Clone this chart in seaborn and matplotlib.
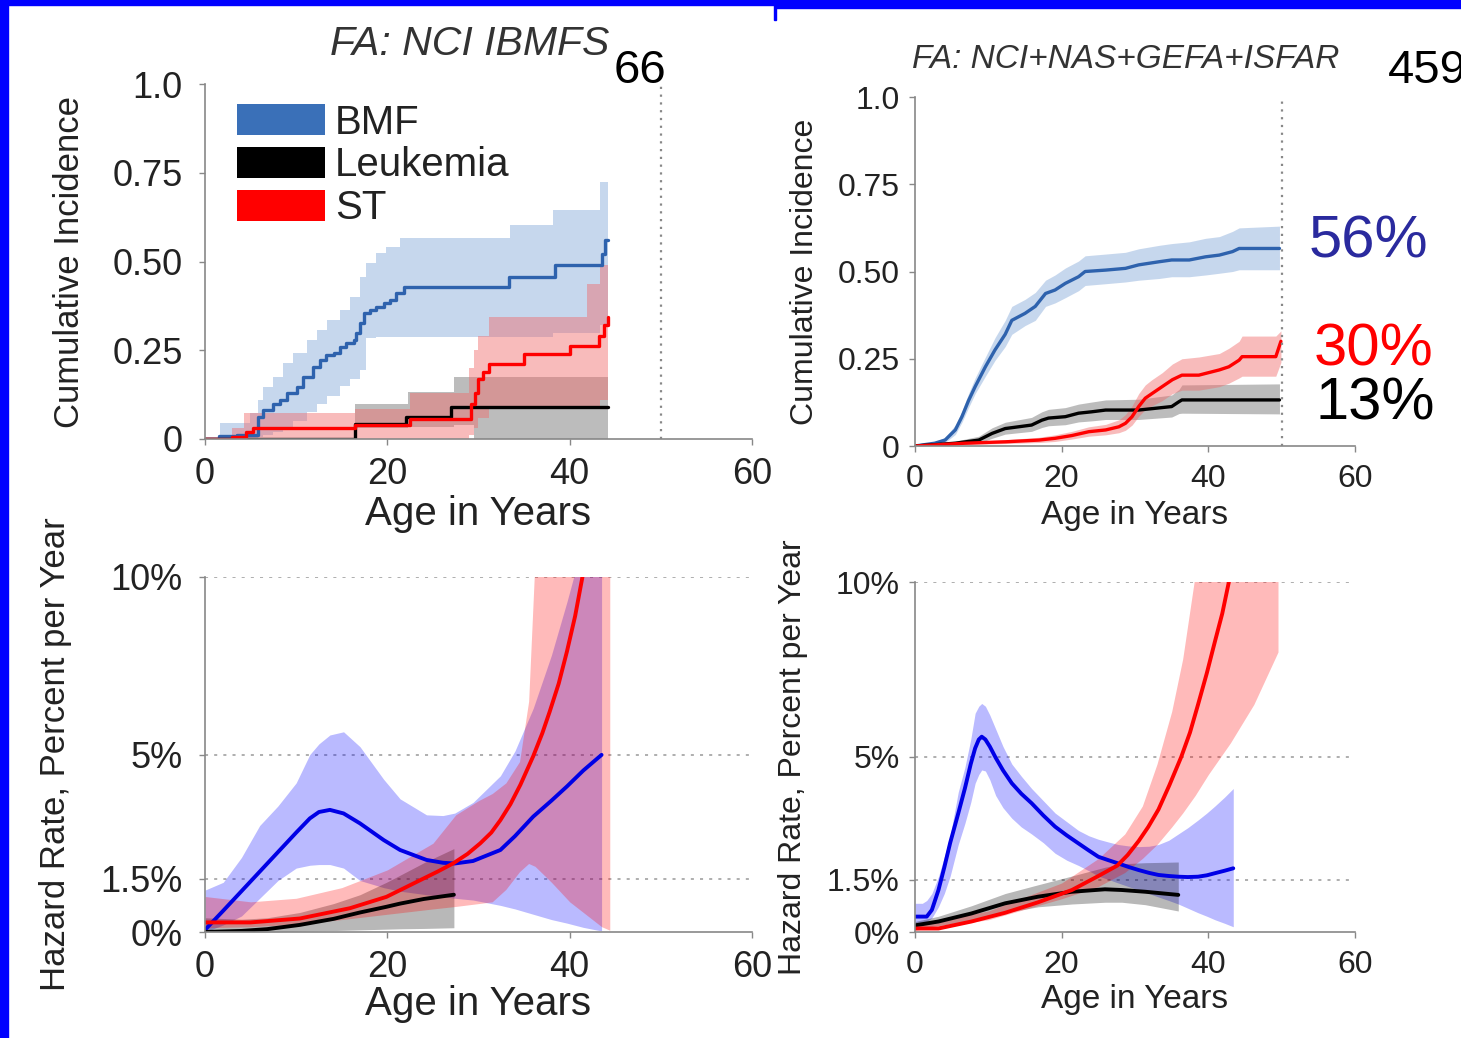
import numpy as np
import matplotlib
matplotlib.use('Agg')
import matplotlib.pyplot as plt
from matplotlib.patches import Patch, Rectangle
import seaborn as sns

# ---- cumulative incidence, NCI IBMFS cohort (step curves) ----
ci1_bmf_t = [0, 1.5, 3.5, 5.8, 6.4, 7.5, 8.2, 9.0, 10.1, 10.8, 11.9, 12.6, 13.3, 14.1, 14.8, 15.5,
             16.3, 16.6, 17.0, 17.4, 18.1, 18.8, 19.6, 20.3, 21.0, 21.8, 33.3, 38.4, 43.5, 43.9, 44.2]
ci1_bmf = [0, 0.008, 0.012, 0.063, 0.082, 0.10, 0.11, 0.129, 0.147, 0.176, 0.204, 0.223, 0.237, 0.241,
           0.26, 0.27, 0.279, 0.298, 0.326, 0.354, 0.363, 0.373, 0.382, 0.392, 0.41, 0.429, 0.457, 0.49,
           0.52, 0.56, 0.56]
ci1_bmf_band_t = [0, 1.6, 4.9, 5.8, 6.4, 7.5, 8.6, 9.7, 11.2, 12.3, 13.4, 14.8, 15.9, 17.0, 17.7, 18.8,
                  19.9, 21.4, 33.5, 38.2, 43.3, 44.2]
ci1_bmf_hi = [0.005, 0.044, 0.072, 0.11, 0.147, 0.176, 0.213, 0.241, 0.279, 0.307, 0.335, 0.363, 0.40,
              0.457, 0.495, 0.523, 0.542, 0.565, 0.603, 0.645, 0.725, 0.725]
ci1_bmf_lo = [0, 0, 0, 0.005, 0.01, 0.02, 0.035, 0.05, 0.075, 0.10, 0.12, 0.15, 0.17, 0.195, 0.285,
              0.288, 0.288, 0.288, 0.288, 0.30, 0.32, 0.32]

ci1_leuk_t = [0, 16.5, 22.0, 27.0, 44.2]
ci1_leuk = [0, 0.042, 0.062, 0.09, 0.09]
ci1_leuk_band_t = [0, 16.5, 22.3, 27.3, 29.5, 44.2]
ci1_leuk_hi = [0, 0.10, 0.133, 0.176, 0.176, 0.176]
ci1_leuk_lo = [0, 0.03, 0.035, 0.04, 0.0, 0.0]

ci1_st_t = [0, 3.0, 4.5, 5.3, 16.5, 22.5, 29.2, 29.6, 30.0, 30.5, 31.2, 35.0, 40.0, 43.2, 43.8, 44.2]
ci1_st = [0, 0.005, 0.02, 0.03, 0.04, 0.057, 0.10, 0.13, 0.17, 0.19, 0.21, 0.24, 0.262, 0.29, 0.32, 0.345]
ci1_st_band_t = [0, 3.0, 4.3, 16.5, 22.5, 29.0, 29.5, 30.0, 31.2, 41.9, 43.3, 44.2]
ci1_st_hi = [0.005, 0.03, 0.072, 0.085, 0.13, 0.20, 0.25, 0.29, 0.345, 0.437, 0.49, 0.49]
ci1_st_lo = [0, 0, 0, 0, 0, 0.01, 0.03, 0.06, 0.085, 0.085, 0.11, 0.11]

# ---- cumulative incidence, combined cohorts ----
ci2_bmf_t = [0, 2.7, 4.1, 5.5, 6.4, 7.3, 8.2, 9.6, 10.9, 12.3, 13.2, 15.0, 16.4, 17.8, 19.1, 20.5, 22.3,
             23.2, 26.0, 28.7, 30.5, 33.3, 35.0, 37.4, 39.6, 41.5, 43.3, 44.2, 49.7]
ci2_bmf = [0, 0.008, 0.017, 0.046, 0.084, 0.13, 0.17, 0.227, 0.275, 0.32, 0.36, 0.38, 0.40, 0.437, 0.447,
           0.466, 0.485, 0.50, 0.504, 0.509, 0.519, 0.528, 0.533, 0.533, 0.542, 0.547, 0.557, 0.566, 0.566]
ci2_bmf_hi = [0, 0.012, 0.025, 0.06, 0.10, 0.15, 0.195, 0.255, 0.31, 0.36, 0.40, 0.42, 0.44, 0.475, 0.49,
              0.51, 0.53, 0.545, 0.55, 0.555, 0.565, 0.575, 0.58, 0.585, 0.595, 0.60, 0.615, 0.625, 0.63]
ci2_bmf_lo = [0, 0.004, 0.01, 0.033, 0.068, 0.11, 0.15, 0.20, 0.245, 0.285, 0.32, 0.345, 0.36, 0.40, 0.41,
              0.425, 0.445, 0.46, 0.465, 0.47, 0.475, 0.48, 0.485, 0.485, 0.49, 0.495, 0.50, 0.505, 0.505]

ci2_leuk_t = [0, 5.5, 8.7, 10.5, 12.3, 14.1, 15.9, 17.3, 18.2, 20.5, 22.3, 24.1, 26.0, 30.5, 35.0, 36.0, 36.4, 49.7]
ci2_leuk = [0, 0.008, 0.017, 0.036, 0.05, 0.055, 0.06, 0.074, 0.08, 0.084, 0.094, 0.098, 0.103, 0.103,
            0.113, 0.127, 0.132, 0.132]
ci2_leuk_hi = [0, 0.014, 0.028, 0.052, 0.068, 0.075, 0.082, 0.098, 0.105, 0.11, 0.12, 0.126, 0.132, 0.134,
               0.146, 0.162, 0.175, 0.178]
ci2_leuk_lo = [0, 0.003, 0.008, 0.022, 0.034, 0.038, 0.042, 0.053, 0.058, 0.061, 0.069, 0.072, 0.076, 0.076,
               0.083, 0.093, 0.094, 0.092]

ci2_st_t = [0, 6.8, 12.3, 16.9, 19.1, 21.4, 23.7, 26.0, 27.8, 28.7, 29.6, 30.5, 31.4, 32.3, 33.7, 35.1,
            36.4, 38.7, 41.5, 42.8, 44.2, 44.6, 49.2, 49.9]
ci2_st = [0, 0.008, 0.012, 0.017, 0.022, 0.03, 0.041, 0.046, 0.055, 0.065, 0.084, 0.113, 0.137, 0.15, 0.17,
          0.19, 0.203, 0.203, 0.218, 0.227, 0.246, 0.256, 0.256, 0.30]
ci2_st_hi = [0, 0.012, 0.018, 0.025, 0.032, 0.042, 0.055, 0.062, 0.075, 0.09, 0.115, 0.15, 0.175, 0.19,
             0.21, 0.235, 0.25, 0.255, 0.265, 0.28, 0.30, 0.315, 0.315, 0.33]
ci2_st_lo = [0, 0.004, 0.007, 0.01, 0.013, 0.02, 0.028, 0.032, 0.038, 0.045, 0.06, 0.085, 0.105, 0.115,
             0.13, 0.15, 0.16, 0.16, 0.17, 0.18, 0.195, 0.20, 0.20, 0.24]

# ---- hazard rates (% per year), NCI IBMFS ----
hz1_bmf_x = [0, 2, 4, 6, 8, 10, 11.5, 12.5, 13.7, 15.2, 17.0, 19.6, 21.4, 24.3, 26.1, 27.4, 29.4, 32.4,
             34.0, 36.0, 38.0, 39.7, 41.5, 43.5]
hz1_bmf = [0.06, 0.6, 1.15, 1.7, 2.25, 2.8, 3.2, 3.38, 3.44, 3.34, 3.06, 2.59, 2.31, 2.03, 1.95, 1.93, 2.0,
           2.31, 2.7, 3.25, 3.7, 4.1, 4.55, 4.99]
hz1_bmf_hi = [1.18, 1.4, 2.1, 3.0, 3.55, 4.2, 5.0, 5.3, 5.55, 5.64, 5.22, 4.3, 3.75, 3.3, 3.28, 3.35, 3.65,
              4.4, 5.1, 6.3, 7.8, 9.3, 11.0, 13.0]
hz1_bmf_lo = [0.0, 0.2, 0.45, 0.95, 1.45, 1.8, 1.88, 1.9, 1.9, 1.8, 1.45, 1.25, 1.15, 1.05, 1.0, 0.95, 0.9,
              0.75, 0.65, 0.5, 0.35, 0.25, 0.13, 0.03]

hz1_leuk_x = [0, 4, 6.8, 10.4, 14.1, 17, 19.9, 21.4, 24, 27.3]
hz1_leuk = [0.0, 0.03, 0.08, 0.2, 0.37, 0.55, 0.71, 0.8, 0.93, 1.05]
hz1_leuk_hi = [0.4, 0.36, 0.4, 0.55, 0.8, 1.05, 1.4, 1.6, 1.95, 2.35]
hz1_leuk_lo = [0, 0, 0, 0.02, 0.04, 0.06, 0.08, 0.09, 0.1, 0.12]

hz1_st_x = [0, 5, 10.4, 15.9, 19.9, 21.4, 23.6, 25.5, 27.2, 28.8, 30.2, 31.4, 32.4, 33.5, 34.6, 36.0,
            37.0, 37.8, 38.8, 39.7, 40.6, 41.4, 42.8]
hz1_st = [0.27, 0.27, 0.38, 0.67, 0.99, 1.18, 1.46, 1.7, 1.93, 2.2, 2.5, 2.8, 3.15, 3.6, 4.15, 4.95,
          5.6, 6.2, 7.0, 7.9, 8.9, 10.0, 11.5]
hz1_st_band_x = [0, 5, 10, 15, 20, 25, 27.5, 30, 31.5, 33, 34.5, 35.5, 36.2, 38, 40, 42, 43.5, 44.4]
hz1_st_hi = [1.0, 0.85, 0.95, 1.25, 1.75, 2.5, 3.3, 3.7, 3.9, 4.2, 4.8, 6.5, 10.5, 12, 13, 14, 15, 15]
hz1_st_lo = [0.12, 0.15, 0.22, 0.35, 0.5, 0.65, 0.72, 0.8, 0.85, 1.2, 1.7, 1.93, 1.85, 1.4, 0.85, 0.45, 0.15, 0.05]

# ---- hazard rates, combined cohorts ----
hz2_bmf_x = [0, 1.0, 1.6, 2.3, 3.2, 4.0, 4.8, 5.9, 6.8, 7.6, 8.2, 8.7, 9.1, 9.6, 10.2, 11.0, 12.0, 13.2,
             14.5, 15.9, 17.5, 19.1, 20.7, 22.3, 23.7, 25.0, 26.4, 27.7, 29.1, 30.5, 31.9, 33.2, 34.6, 35.9,
             37.2, 38.6, 39.8, 40.9, 42.2, 43.4]
hz2_bmf = [0.44, 0.44, 0.44, 0.63, 1.2, 1.85, 2.55, 3.39, 4.1, 4.8, 5.25, 5.5, 5.58, 5.5, 5.3, 4.98, 4.62,
           4.25, 3.95, 3.68, 3.33, 3.01, 2.76, 2.53, 2.33, 2.15, 2.05, 1.96, 1.86, 1.77, 1.69, 1.63, 1.6,
           1.58, 1.57, 1.58, 1.62, 1.68, 1.75, 1.82]
hz2_bmf_hi = [0.82, 0.82, 0.9, 1.1, 1.58, 2.15, 2.75, 4.0, 4.7, 5.5, 6.25, 6.45, 6.53, 6.45, 6.2, 5.8, 5.3,
              4.8, 4.45, 4.1, 3.75, 3.4, 3.15, 2.9, 2.75, 2.65, 2.57, 2.5, 2.46, 2.44, 2.45, 2.5, 2.62, 2.8,
              2.98, 3.2, 3.4, 3.6, 3.85, 4.1]
hz2_bmf_lo = [0.25, 0.25, 0.3, 0.4, 0.72, 1.1, 1.6, 2.5, 3.1, 3.7, 4.25, 4.5, 4.63, 4.6, 4.35, 3.9, 3.55,
              3.25, 3.0, 2.8, 2.55, 2.25, 2.05, 1.9, 1.75, 1.6, 1.5, 1.4, 1.3, 1.2, 1.1, 1.0, 0.9, 0.8,
              0.68, 0.55, 0.45, 0.35, 0.25, 0.15]

hz2_leuk_x = [0, 3.2, 7.7, 12.3, 16.8, 21.4, 25.9, 28.2, 31.4, 35.9]
hz2_leuk = [0.19, 0.3, 0.53, 0.82, 1.01, 1.15, 1.22, 1.2, 1.15, 1.06]
hz2_leuk_hi = [0.3, 0.45, 0.75, 1.1, 1.35, 1.6, 1.85, 1.95, 1.98, 2.0]
hz2_leuk_lo = [0.1, 0.18, 0.33, 0.55, 0.72, 0.8, 0.85, 0.85, 0.78, 0.6]

hz2_st_x = [0, 3.2, 7.7, 12.3, 16.8, 21.4, 25.0, 27.6, 29.0, 30.5, 31.8, 33.2, 34.7, 36.3, 37.5, 38.6,
            39.8, 40.9, 41.9, 42.8, 44.0]
hz2_st = [0.1, 0.1, 0.3, 0.55, 0.85, 1.2, 1.6, 1.9, 2.2, 2.6, 3.0, 3.5, 4.2, 5.0, 5.7, 6.5, 7.4, 8.3, 9.1,
          10.0, 11.2]
hz2_st_band_x = [0, 10, 20, 25, 28.6, 31, 33, 35, 36.5, 38.2, 40, 43, 46.2, 49.5]
hz2_st_hi = [0.2, 0.6, 1.4, 2.1, 2.8, 3.6, 4.8, 6.3, 7.8, 10.2, 11.5, 13, 14.5, 16]
hz2_st_lo = [0.05, 0.35, 0.95, 1.3, 1.7, 2.1, 2.5, 3.0, 3.4, 3.9, 4.5, 5.4, 6.5, 8.0]

labels = ['BMF', 'Leukemia', 'ST']
ci_ticks = [0, 0.25, 0.5, 0.75, 1.0]
ci_ticklabels = ['0', '0.25', '0.50', '0.75', '1.0']
hz_ticks = [0, 1.5, 5, 10]
hz_ticklabels = ['0%', '1.5%', '5%', '10%']
age_ticks = [0, 20, 40, 60]

sns.set_style('white')
plt.rcParams['font.family'] = ['Liberation Sans', 'DejaVu Sans']

W, H = 1461, 1038
fig = plt.figure(figsize=(W / 100, H / 100), dpi=100)


def px_axes(x0, x1, ytop, ybot):
    return fig.add_axes([x0 / W, 1 - ybot / H, (x1 - x0) / W, (ybot - ytop) / H])


ax_tl = px_axes(205, 752, 84, 439)
ax_tr = px_axes(915, 1355, 97, 446)
ax_bl = px_axes(205, 752, 577, 932)
ax_br = px_axes(915, 1355, 582, 932)

txt = '#222222'


def style(ax, tsize, lsize, xsize, ylabel, ylab_x, xlab_y, ypad, xpad):
    for s in ['top', 'right']:
        ax.spines[s].set_visible(False)
    for s in ['left', 'bottom']:
        ax.spines[s].set_color('#888888')
        ax.spines[s].set_linewidth(1.2)
    ax.set_xlim(0, 60)
    ax.set_xticks(age_ticks)
    ax.tick_params(axis='both', length=4, width=1, color='#888888', labelcolor=txt, labelsize=tsize,
                   direction='out', left=True, bottom=True)
    ax.tick_params(axis='y', pad=ypad)
    ax.tick_params(axis='x', pad=xpad)
    ax.set_xlabel('Age in Years', fontsize=xsize, color=txt)
    ax.xaxis.set_label_coords(0.5, xlab_y)
    ax.set_ylabel(ylabel, fontsize=lsize, color=txt, va='center')
    ax.yaxis.set_label_coords(ylab_x, 0.5)
    ax.grid(False)


# top panels: cumulative incidence with confidence bands
top_c = {'blue': '#2e62ad', 'bfill': '#8fb0dc', 'red': '#ff0000', 'rfill': '#f06a6a',
         'gfill': '#7a7a7a'}


def draw_ci(ax, bt, blo, bhi, b_t, b_v, lt, llo, lhi, l_t, l_v, st, slo, shi, s_t, s_v, lw, steps):
    stp = 'post' if steps else None
    ds = 'steps-post' if steps else 'default'
    ax.fill_between(bt, blo, bhi, step=stp, color=top_c['bfill'], alpha=0.5, lw=0)
    ax.fill_between(lt, llo, lhi, step=stp, color=top_c['gfill'], alpha=0.5, lw=0)
    ax.fill_between(st, slo, shi, step=stp, color=top_c['rfill'], alpha=0.45, lw=0)
    sns.lineplot(x=b_t, y=b_v, ax=ax, color=top_c['blue'], lw=lw, drawstyle=ds,
                 estimator=None, sort=False)
    sns.lineplot(x=l_t, y=l_v, ax=ax, color='black', lw=lw, drawstyle=ds,
                 estimator=None, sort=False)
    sns.lineplot(x=s_t, y=s_v, ax=ax, color=top_c['red'], lw=lw, drawstyle=ds,
                 estimator=None, sort=False)
    ax.axvline(50, ymin=0, ymax=1, color='#888888', ls=(0, (1, 2.5)), lw=1.6)
    ax.set_ylim(0, 1.0)
    ax.set_yticks(ci_ticks)
    ax.set_yticklabels(ci_ticklabels)


draw_ci(ax_tl, ci1_bmf_band_t, ci1_bmf_lo, ci1_bmf_hi, ci1_bmf_t, ci1_bmf,
        ci1_leuk_band_t, ci1_leuk_lo, ci1_leuk_hi, ci1_leuk_t, ci1_leuk,
        ci1_st_band_t, ci1_st_lo, ci1_st_hi, ci1_st_t, ci1_st, 2.4, True)
draw_ci(ax_tr, ci2_bmf_t, ci2_bmf_lo, ci2_bmf_hi, ci2_bmf_t, ci2_bmf,
        ci2_leuk_t, ci2_leuk_lo, ci2_leuk_hi, ci2_leuk_t, ci2_leuk,
        ci2_st_t, ci2_st_lo, ci2_st_hi, ci2_st_t, ci2_st, 2.4, False)


# bottom panels: smoothed hazards
def draw_hz(ax, bx, b, blo, bhi, lx, l, llo, lhi, sx, s, sbx, slo, shi):
    for yv in hz_ticks[1:]:
        ax.axhline(yv, xmin=0, xmax=1, color='#999999', ls=(0, (2, 4)), lw=1.1, zorder=0)
    ax.fill_between(bx, blo, bhi, color='#0000ff', alpha=0.27, lw=0)
    ax.fill_between(lx, llo, lhi, color='#000000', alpha=0.28, lw=0)
    ax.fill_between(sbx, slo, shi, color='#ff0000', alpha=0.27, lw=0)
    sns.lineplot(x=bx, y=b, ax=ax, color='#0000e6', lw=2.8, estimator=None, sort=False)
    sns.lineplot(x=lx, y=l, ax=ax, color='black', lw=2.8, estimator=None, sort=False)
    sns.lineplot(x=sx, y=s, ax=ax, color='#ff0000', lw=2.8, estimator=None, sort=False)
    ax.set_ylim(0, 10)
    ax.set_yticks(hz_ticks)
    ax.set_yticklabels(hz_ticklabels)


draw_hz(ax_bl, hz1_bmf_x, hz1_bmf, hz1_bmf_lo, hz1_bmf_hi, hz1_leuk_x, hz1_leuk, hz1_leuk_lo, hz1_leuk_hi,
        hz1_st_x, hz1_st, hz1_st_band_x, hz1_st_lo, hz1_st_hi)
draw_hz(ax_br, hz2_bmf_x, hz2_bmf, hz2_bmf_lo, hz2_bmf_hi, hz2_leuk_x, hz2_leuk, hz2_leuk_lo, hz2_leuk_hi,
        hz2_st_x, hz2_st, hz2_st_band_x, hz2_st_lo, hz2_st_hi)

style(ax_tl, 26, 25, 29, 'Cumulative Incidence', -0.247, -0.158, 12, 9)
style(ax_tr, 23, 23, 24, 'Cumulative Incidence', -0.25, -0.155, 7, 9)
style(ax_bl, 26, 25, 29, 'Hazard Rate, Percent per Year', -0.274, -0.148, 12, 9)
style(ax_br, 23, 23, 24, 'Hazard Rate, Percent per Year', -0.277, -0.148, 7, 9)

# legend
handles = [Patch(facecolor='#3a70b8', edgecolor='none'), Patch(facecolor='black', edgecolor='none'),
           Patch(facecolor='#ff0000', edgecolor='none')]
leg = ax_tl.legend(handles, labels, loc='upper left', bbox_to_anchor=(0.0585, 0.945), frameon=False,
                   fontsize=29, handlelength=2.18, handleheight=0.8, handletextpad=0.25,
                   labelspacing=0.12, borderpad=0, borderaxespad=0)
for t in leg.get_texts():
    t.set_color(txt)

# titles and annotations
fig.text(330 / W, 1 - 55 / H, 'FA: NCI IBMFS', fontsize=29.5, style='italic', color='#333333',
         ha='left', va='baseline')
fig.text(912 / W, 1 - 68 / H, 'FA: NCI+NAS+GEFA+ISFAR', fontsize=24, style='italic', color='#333333',
         ha='left', va='baseline')
fig.text(614 / W, 1 - 83 / H, '66', fontsize=34, color='black', ha='left', va='baseline')
fig.text(1388 / W, 1 - 83 / H, '459', fontsize=34, color='black', ha='left', va='baseline')
fig.text(1309 / W, 1 - 258 / H, '56%', fontsize=43, color='#2a2a9e', ha='left', va='baseline')
fig.text(1314 / W, 1 - 365 / H, '30%', fontsize=43, color='#ff0000', ha='left', va='baseline')
fig.text(1316 / W, 1 - 420 / H, '13%', fontsize=43, color='black', ha='left', va='baseline')

# blue slide frame
blue = '#0000ff'
fig.patches.append(Rectangle((0, 0), 8 / W, 1, transform=fig.transFigure, color=blue, zorder=20))
fig.patches.append(Rectangle((0, 1 - 5 / H), 776 / W, 5 / H, transform=fig.transFigure, color=blue, zorder=20))
fig.patches.append(Rectangle((775 / W, 1 - 8 / H), (W - 775) / W, 8 / H, transform=fig.transFigure,
                             color=blue, zorder=20))
fig.patches.append(Rectangle((774 / W, 1 - 20 / H), 2 / W, 20 / H, transform=fig.transFigure, color=blue,
                             zorder=20))

fig.savefig('out.png', dpi=100)
